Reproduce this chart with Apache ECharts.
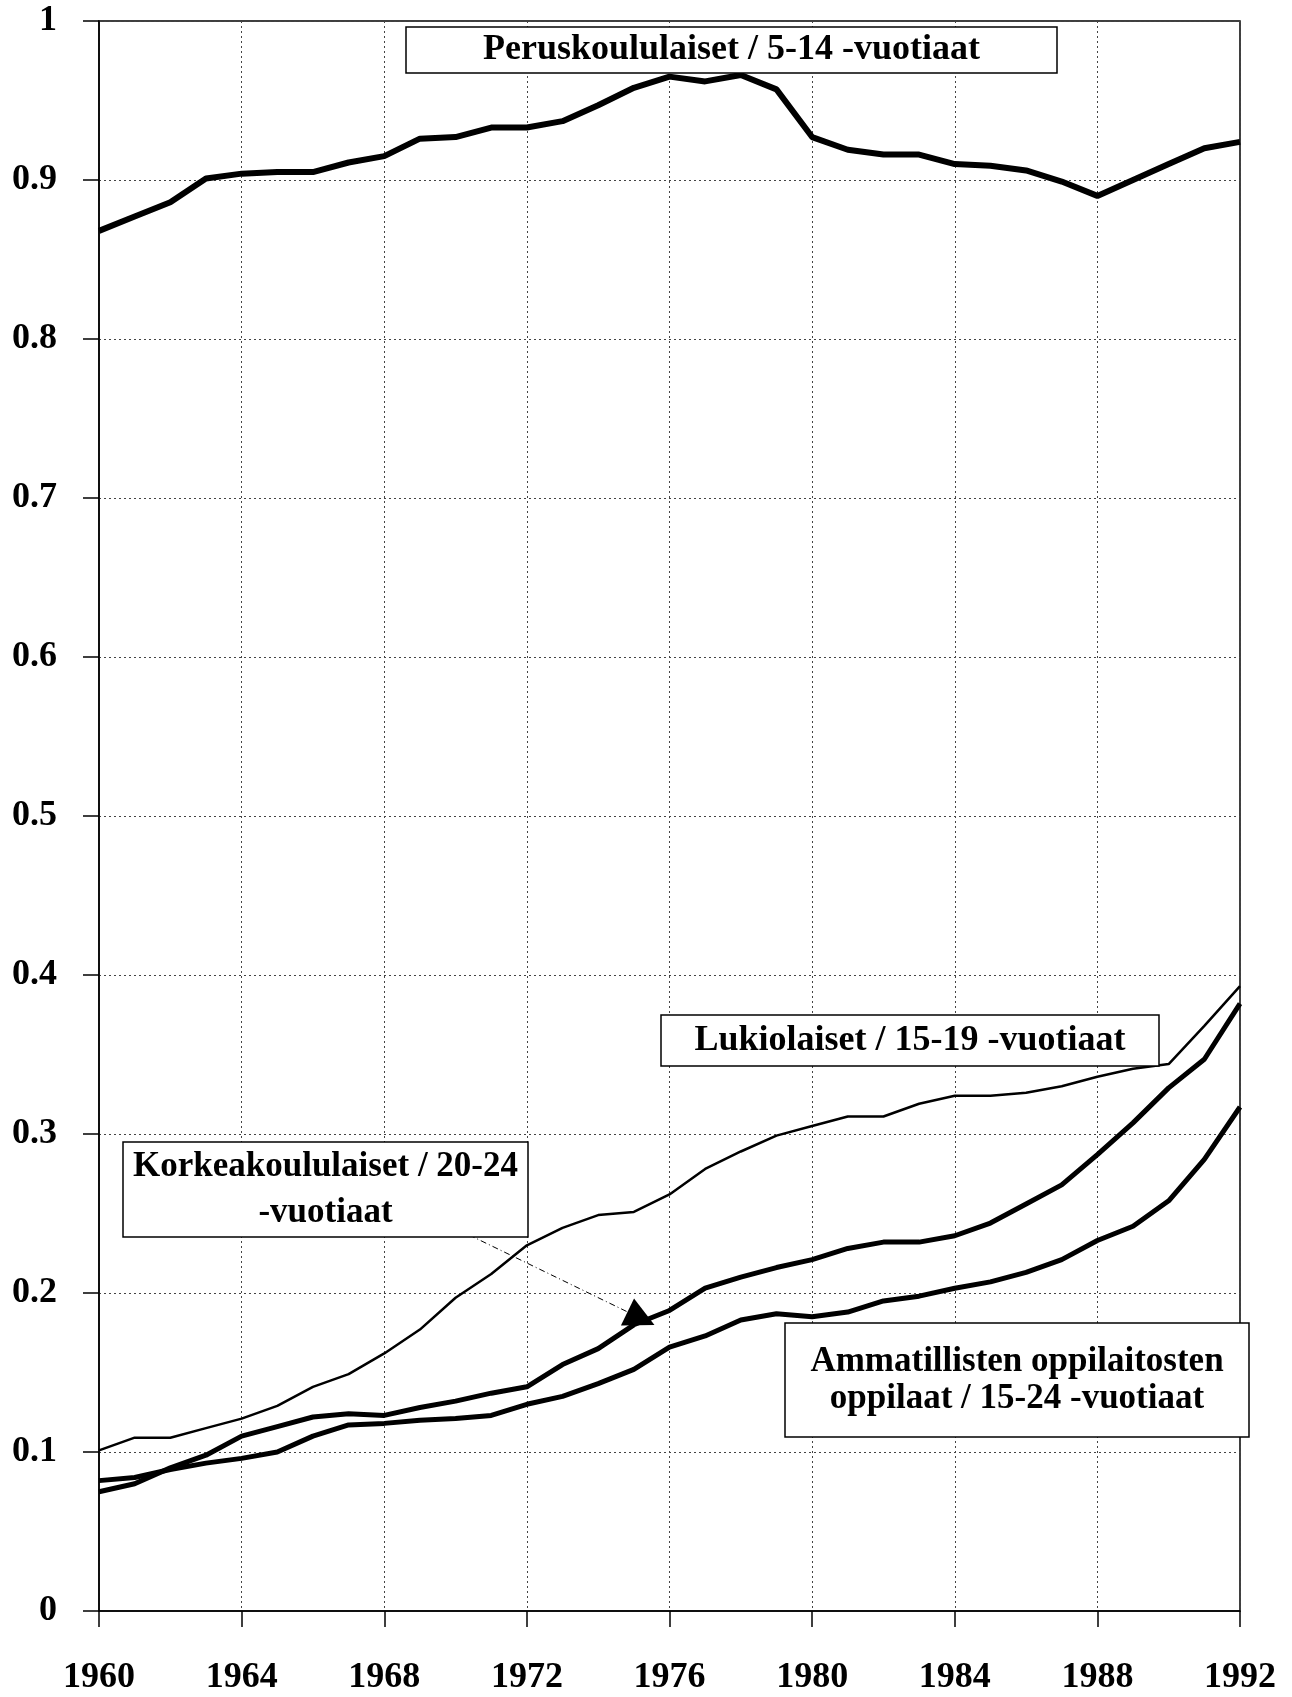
<!DOCTYPE html>
<html>
<head>
<meta charset="utf-8">
<script src="https://cdn.jsdelivr.net/npm/echarts@6/dist/echarts.min.js"></script>
<style>
html,body{margin:0;padding:0;background:#fff;}
#c{width:1292px;height:1697px;}
</style>
</head>
<body>
<div id="c"></div>
<script>
const years = [1960,1961,1962,1963,1964,1965,1966,1967,1968,1969,1970,1971,1972,1973,1974,1975,1976,1977,1978,1979,1980,1981,1982,1983,1984,1985,1986,1987,1988,1989,1990,1991,1992];
const peruskoululaiset = [0.868,0.877,0.886,0.901,0.904,0.905,0.905,0.911,0.915,0.926,0.927,0.933,0.933,0.937,0.947,0.958,0.965,0.962,0.966,0.957,0.927,0.919,0.916,0.916,0.910,0.909,0.906,0.899,0.890,0.900,0.910,0.920,0.924];
const lukiolaiset = [0.101,0.109,0.109,0.115,0.121,0.129,0.141,0.149,0.162,0.177,0.197,0.212,0.230,0.241,0.249,0.251,0.262,0.278,0.289,0.299,0.305,0.311,0.311,0.319,0.324,0.324,0.326,0.330,0.336,0.341,0.344,0.368,0.393];
const korkeakoululaiset = [0.075,0.080,0.090,0.098,0.110,0.116,0.122,0.124,0.123,0.128,0.132,0.137,0.141,0.155,0.165,0.180,0.189,0.203,0.210,0.216,0.221,0.228,0.232,0.232,0.236,0.244,0.256,0.268,0.287,0.307,0.329,0.347,0.382];
const ammatilliset = [0.082,0.084,0.089,0.093,0.096,0.100,0.110,0.117,0.118,0.120,0.121,0.123,0.130,0.135,0.143,0.152,0.166,0.173,0.183,0.187,0.185,0.188,0.195,0.198,0.203,0.207,0.213,0.221,0.233,0.242,0.258,0.284,0.317];
const labels = {
  perus: 'Peruskoululaiset / 5-14 -vuotiaat',
  lukio: 'Lukiolaiset / 15-19 -vuotiaat',
  korkea: 'Korkeakoululaiset / 20-24\n-vuotiaat',
  ammat: 'Ammatillisten oppilaitosten\noppilaat / 15-24 -vuotiaat'
};
const arrowFrom = [1970.38, 0.2365];
const arrowTo = [1975.2, 0.184];

const FONT = '"Liberation Serif","Times New Roman",serif';
const pair = arr => years.map((y, i) => [y, arr[i]]);

const chart = echarts.init(document.getElementById('c'), null, {renderer: 'canvas'});

function box(x, y, w, h, text, fs, lh) {
  return [
    {type: 'rect', z: 100, shape: {x: x, y: y, width: w, height: h},
     style: {fill: '#fff', stroke: '#000', lineWidth: 1.5}},
    {type: 'text', z: 101, x: x + w / 2, y: y + h / 2,
     style: {text: text, fill: '#000', font: 'bold ' + fs + 'px ' + FONT,
             align: 'center', verticalAlign: 'middle', lineHeight: lh}}
  ];
}

const lineSeries = (name, arr, w) => ({
  name: name, type: 'line', data: pair(arr), showSymbol: false, symbol: 'none',
  smooth: false, lineStyle: {color: '#000', width: w}, itemStyle: {color: '#000'},
  emphasis: {disabled: true}, z: 3
});

const korkeaSeries = lineSeries('Korkeakoululaiset', korkeakoululaiset, 5);
korkeaSeries.markLine = {
  silent: true, animation: false,
  symbol: ['none', 'triangle'], symbolSize: 30,
  label: {show: false},
  lineStyle: {color: '#000', width: 1, type: [6, 3, 1, 3]},
  emphasis: {disabled: true},
  data: [[{coord: arrowFrom}, {coord: arrowTo}]]
};

chart.setOption({
  animation: false,
  backgroundColor: '#fff',
  grid: {left: 99, right: 52, top: 21, bottom: 86, show: true, borderColor: '#000', borderWidth: 1.5},
  xAxis: {
    type: 'value', min: 1960, max: 1992, interval: 4,
    axisLine: {show: true, lineStyle: {color: '#000', width: 1.5}},
    axisTick: {show: true, inside: false, length: 16, lineStyle: {color: '#000', width: 1.5}},
    axisLabel: {color: '#000', fontFamily: FONT, fontWeight: 'bold', fontSize: 36, margin: 49,
                formatter: v => String(v)},
    splitLine: {show: true, lineStyle: {color: '#444', width: 1, type: [2, 3]}}
  },
  yAxis: {
    type: 'value', min: 0, max: 1, interval: 0.1,
    axisLine: {show: true, lineStyle: {color: '#000', width: 1.5}},
    axisTick: {show: true, inside: false, length: 16, lineStyle: {color: '#000', width: 1.5}},
    axisLabel: {color: '#000', fontFamily: FONT, fontWeight: 'bold', fontSize: 36, margin: 42,
                formatter: v => String(Math.round(v * 10) / 10)},
    splitLine: {show: true, lineStyle: {color: '#444', width: 1, type: [2, 3]}}
  },
  series: [
    lineSeries('Peruskoululaiset', peruskoululaiset, 6),
    lineSeries('Lukiolaiset', lukiolaiset, 2.5),
    korkeaSeries,
    lineSeries('Ammatilliset', ammatilliset, 5)
  ],
  graphic: [].concat(
    box(406, 27, 651, 46, labels.perus, 36, 40),
    box(661, 1015, 498, 51, labels.lukio, 36, 40),
    box(123, 1142, 405, 95, labels.korkea, 35, 46),
    box(785, 1323, 464, 114, labels.ammat, 35, 37)
  )
});
</script>
</body>
</html>
